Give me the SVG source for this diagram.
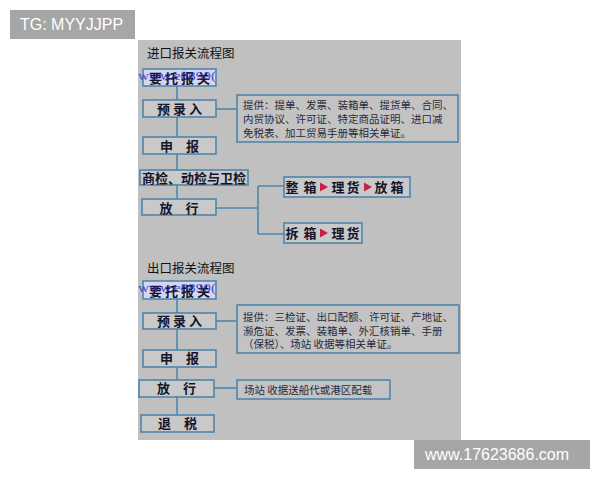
<svg xmlns="http://www.w3.org/2000/svg" width="600" height="480" viewBox="0 0 600 480">
<style>
.bg{fill:#c0c0c0}
.box{fill:#c9c9c9;stroke:#4f86ac;stroke-width:1.6}
.box2{fill:#d6d6ee;stroke:#4f86ac;stroke-width:1.6}
.info{fill:#c3c3c3;stroke:#4f86ac;stroke-width:1.6}
.ln{fill:none;stroke:#4f86ac;stroke-width:1.6}
.lb{font-family:"Noto Sans CJK SC","Noto Sans",sans-serif;font-size:13px;font-weight:bold;fill:#15152a}
.tt{font-family:"Noto Sans CJK SC",sans-serif;font-size:12.5px;fill:#111}
.it{font-family:"Noto Sans CJK SC",sans-serif;font-size:10.5px;fill:#2a2a3a}
.arr{fill:#c8204a}
.wm{fill:#a6a6a6}
.wt{font-family:"Liberation Sans",Arial,sans-serif;font-size:16px;fill:#ffffff}
.blue{font-family:"Liberation Serif",serif;font-size:13px;fill:#2828c8;opacity:0.8}
</style>
<rect class="bg" x="138" y="40" width="323" height="400"/>
<g id="connectors">
<path class="ln" d="M177 86V170M177 185V199"/>
<path class="ln" d="M216 109H237"/>
<path class="ln" d="M216 208H258M258 186V234M258 186H284M258 234H284"/>
<path class="ln" d="M177 299V350M177 367V380M177 397V415"/>
<path class="ln" d="M216 321H237"/>
<path class="ln" d="M214 388H237"/>
</g>
<text class="tt" x="147" y="58">进口报关流程图</text>
<g id="n_imp1"><rect class="box2" x="143" y="69" width="73" height="17"/><text class="lb" x="181" y="83" text-anchor="middle" letter-spacing="3">要托报关</text><text class="blue" x="138" y="80" textLength="78" lengthAdjust="spacingAndGlyphs">www.e8890(</text></g>
<g id="n_imp2"><rect class="box" x="143" y="100" width="73" height="17"/><text class="lb" x="179.5" y="113.5" text-anchor="middle">预 录 入</text></g>
<g id="n_imp_info"><rect class="info" x="237" y="95" width="221" height="47"/>
<text class="it" x="243" y="109">提供：提单、发票、装箱单、提货单、合同、</text>
<text class="it" x="243" y="123">内贸协议、许可证、特定商品证明、进口减</text>
<text class="it" x="243" y="137">免税表、加工贸易手册等相关单证。</text></g>
<g id="n_imp3"><rect class="box" x="143" y="137" width="73" height="17"/><text class="lb" x="179.5" y="150.5" text-anchor="middle">申　报</text></g>
<g id="n_imp4"><rect class="box" x="140" y="170" width="108" height="15"/><text class="lb" x="194" y="182.5" text-anchor="middle">商检、动检与卫检</text></g>
<g id="n_imp5"><rect class="box" x="142" y="199" width="74" height="16"/><text class="lb" x="179" y="212.5" text-anchor="middle">放　行</text></g>
<g id="n_imp6"><rect class="box" x="284" y="177" width="126" height="20"/>
<text class="lb" x="292" y="192" text-anchor="middle">整</text><text class="lb" x="310" y="192" text-anchor="middle">箱</text>
<path class="arr" d="M320 182.5L328 187L320 191.5Z"/>
<text class="lb" x="338" y="192" text-anchor="middle">理</text><text class="lb" x="353" y="192" text-anchor="middle">货</text>
<path class="arr" d="M364 182.5L372 187L364 191.5Z"/>
<text class="lb" x="381" y="192" text-anchor="middle">放</text><text class="lb" x="397" y="192" text-anchor="middle">箱</text></g>
<g id="n_imp7"><rect class="box" x="284" y="223" width="78" height="20"/>
<text class="lb" x="292" y="238" text-anchor="middle">拆</text><text class="lb" x="310" y="238" text-anchor="middle">箱</text>
<path class="arr" d="M320 228.5L328 233L320 237.5Z"/>
<text class="lb" x="338" y="238" text-anchor="middle">理</text><text class="lb" x="353" y="238" text-anchor="middle">货</text></g>
<text class="tt" x="147" y="273">出口报关流程图</text>
<g id="n_exp1"><rect class="box2" x="143" y="281" width="73" height="18"/><text class="lb" x="181" y="295.5" text-anchor="middle" letter-spacing="3">要托报关</text><text class="blue" x="138" y="292" textLength="78" lengthAdjust="spacingAndGlyphs">www.e8890(</text></g>
<g id="n_exp2"><rect class="box" x="143" y="313" width="73" height="16"/><text class="lb" x="179.5" y="326" text-anchor="middle">预 录 入</text></g>
<g id="n_exp_info"><rect class="info" x="237" y="305" width="222" height="48"/>
<text class="it" x="243" y="321">提供：三检证、出口配额、许可证、产地证、</text>
<text class="it" x="243" y="334.5">濒危证、发票、装箱单、外汇核销单、手册</text>
<text class="it" x="243" y="348">（保税）、场站 收据等相关单证。</text></g>
<g id="n_exp3"><rect class="box" x="143" y="350" width="73" height="17"/><text class="lb" x="179.5" y="363" text-anchor="middle">申　报</text></g>
<g id="n_exp4"><rect class="box" x="139" y="380" width="75" height="17"/><text class="lb" x="176.5" y="393" text-anchor="middle">放　行</text></g>
<g id="n_exp_info2"><rect class="info" x="237" y="380" width="153" height="19"/><text class="it" x="244" y="393.5">场站 收据送船代或港区配载</text></g>
<g id="n_exp5"><rect class="box" x="141" y="415" width="73" height="17"/><text class="lb" x="177.5" y="428" text-anchor="middle">退　税</text></g>
<rect class="wm" x="10" y="10" width="125" height="29"/>
<text class="wt" x="20" y="30">TG: MYYJJPP</text>
<rect class="wm" x="414" y="440" width="176" height="29"/>
<text class="wt" x="425" y="460">www.17623686.com</text>
</svg>
